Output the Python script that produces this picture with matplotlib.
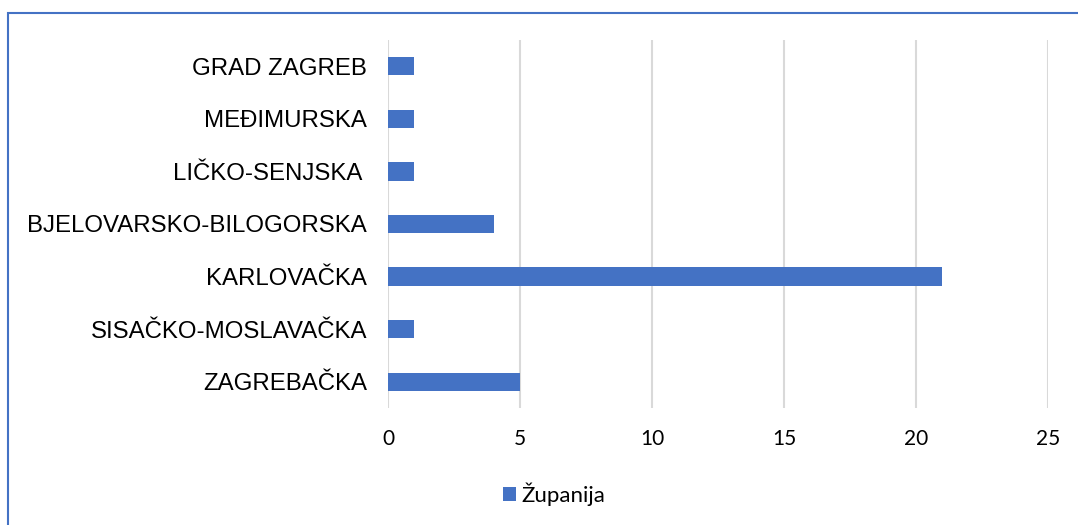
import matplotlib.pyplot as plt
from matplotlib.patches import Rectangle

counties = ["ZAGREBAČKA", "SISAČKO-MOSLAVAČKA", "KARLOVAČKA",
            "BJELOVARSKO-BILOGORSKA", "LIČKO-SENJSKA ", "MEĐIMURSKA", "GRAD ZAGREB"]
counts = [5, 1, 21, 4, 1, 1, 1]
xticks = [0, 5, 10, 15, 20, 25]
series_name = "Županija"

blue = "#4472C4"

fig = plt.figure(figsize=(10.78, 5.25), dpi=100)
ax = fig.add_axes([388 / 1078, 1 - 408 / 525, 660 / 1078, 368 / 525])

ax.barh(range(len(counties)), counts, height=0.35, color=blue, label=series_name, zorder=3)
ax.set_yticks(range(len(counties)))
ax.set_yticklabels(counties, fontsize=17.3, family="Liberation Sans")
ax.set_ylim(-0.5, len(counties) - 0.5)
ax.set_xlim(0, 25)
ax.set_xticks(xticks)
ax.set_xticklabels([str(t) for t in xticks], fontsize=15, family="Lato")
ax.tick_params(axis="both", length=0)
ax.tick_params(axis="x", pad=15)
ax.tick_params(axis="y", pad=15)
ax.grid(axis="x", color="#d9d9d9", linewidth=1.5, zorder=0)
for s in ax.spines.values():
    s.set_visible(False)

leg = fig.legend(loc="center", bbox_to_anchor=(554 / 1078, 1 - 494 / 525), frameon=False,
                 handlelength=0.6, handleheight=0.6, handletextpad=0.25,
                 prop={"family": "Lato", "size": 16})

# blue outer frame (right/bottom edges cut off in the original)
fig.patches.append(Rectangle((8 / 1078, -0.1), 1.2, 1 - 13 / 525 + 0.1,
                             transform=fig.transFigure, fill=False,
                             edgecolor=blue, linewidth=1.5))

fig.savefig("out.png", dpi=100)
